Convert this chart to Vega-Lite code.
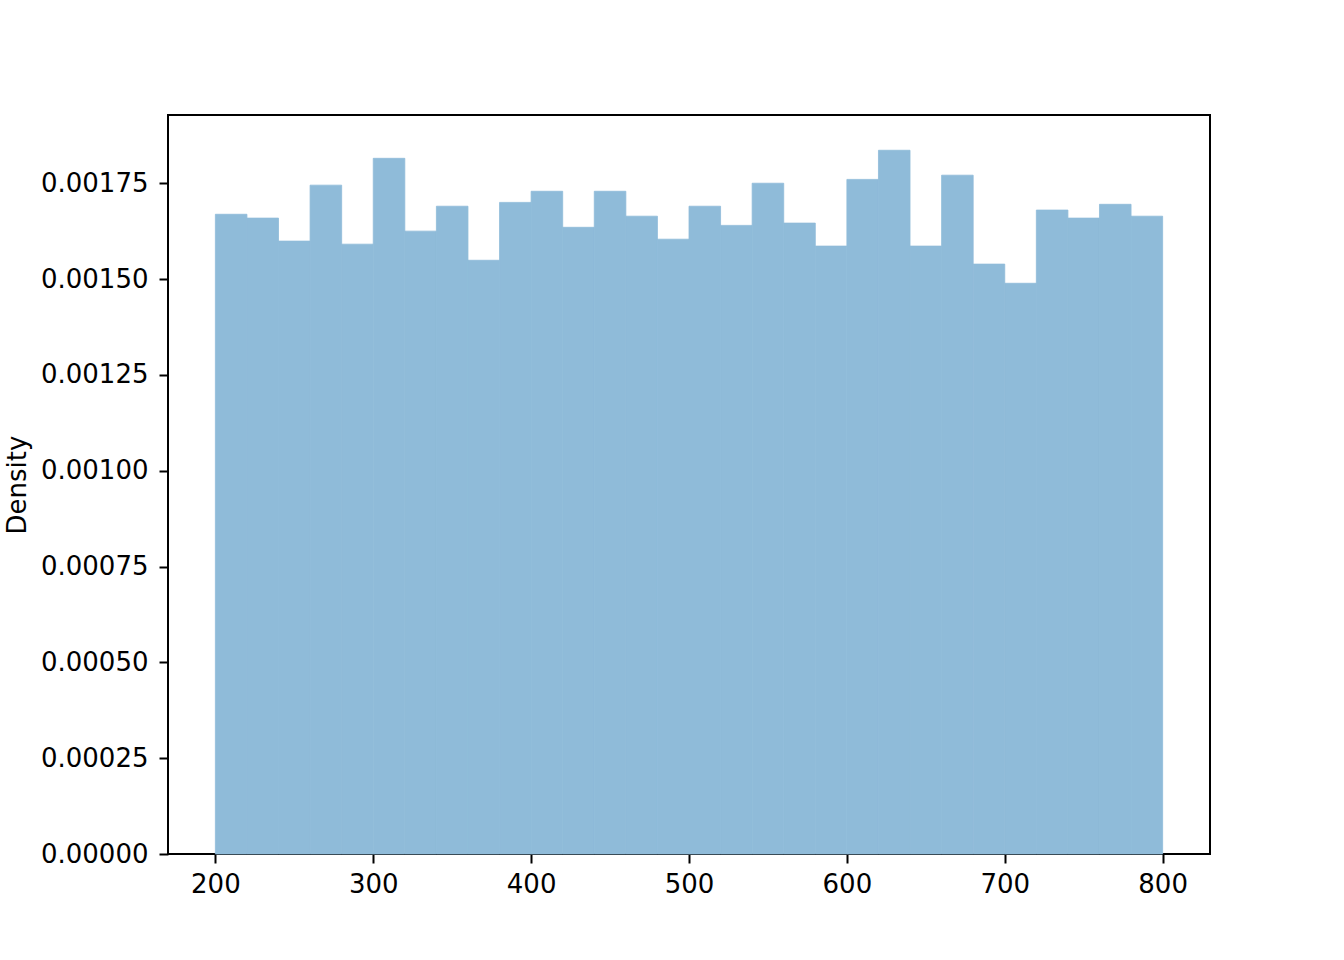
{
  "$schema": "https://vega.github.io/schema/vega-lite/v6.json",
  "width": 1042,
  "height": 739,
  "autosize": {"type": "none"},
  "padding": {"left": 168, "top": 115, "right": 134, "bottom": 106},
  "background": "white",
  "config": {
    "view": {"stroke": "black", "strokeWidth": 2},
    "font": "DejaVu Sans",
    "axis": {
      "domain": false,
      "grid": false,
      "ticks": true,
      "tickColor": "black",
      "tickWidth": 2,
      "tickSize": 9,
      "labelPadding": 8,
      "labelFont": "DejaVu Sans",
      "labelFontSize": 26,
      "labelColor": "black",
      "titleFont": "DejaVu Sans",
      "titleFontSize": 26,
      "titleFontWeight": "normal",
      "titleColor": "black"
    }
  },
  "data": {
    "values": [
      {"bin_start": 200, "bin_end": 220, "density": 0.001669},
      {"bin_start": 220, "bin_end": 240, "density": 0.001659},
      {"bin_start": 240, "bin_end": 260, "density": 0.001599},
      {"bin_start": 260, "bin_end": 280, "density": 0.001745},
      {"bin_start": 280, "bin_end": 300, "density": 0.001591},
      {"bin_start": 300, "bin_end": 320, "density": 0.001815},
      {"bin_start": 320, "bin_end": 340, "density": 0.001625},
      {"bin_start": 340, "bin_end": 360, "density": 0.001690},
      {"bin_start": 360, "bin_end": 380, "density": 0.001549},
      {"bin_start": 380, "bin_end": 400, "density": 0.001700},
      {"bin_start": 400, "bin_end": 420, "density": 0.001729},
      {"bin_start": 420, "bin_end": 440, "density": 0.001635},
      {"bin_start": 440, "bin_end": 460, "density": 0.001729},
      {"bin_start": 460, "bin_end": 480, "density": 0.001664},
      {"bin_start": 480, "bin_end": 500, "density": 0.001604},
      {"bin_start": 500, "bin_end": 520, "density": 0.001690},
      {"bin_start": 520, "bin_end": 540, "density": 0.001640},
      {"bin_start": 540, "bin_end": 560, "density": 0.001750},
      {"bin_start": 560, "bin_end": 580, "density": 0.001646},
      {"bin_start": 580, "bin_end": 600, "density": 0.001586},
      {"bin_start": 600, "bin_end": 620, "density": 0.001760},
      {"bin_start": 620, "bin_end": 640, "density": 0.001836},
      {"bin_start": 640, "bin_end": 660, "density": 0.001586},
      {"bin_start": 660, "bin_end": 680, "density": 0.001771},
      {"bin_start": 680, "bin_end": 700, "density": 0.001539},
      {"bin_start": 700, "bin_end": 720, "density": 0.001489},
      {"bin_start": 720, "bin_end": 740, "density": 0.001680},
      {"bin_start": 740, "bin_end": 760, "density": 0.001659},
      {"bin_start": 760, "bin_end": 780, "density": 0.001695},
      {"bin_start": 780, "bin_end": 800, "density": 0.001664}
    ]
  },
  "mark": {"type": "rect", "color": "#8fbbd9", "opacity": 1, "stroke": "#8fbbd9", "strokeWidth": 0.8},
  "encoding": {
    "x": {
      "field": "bin_start",
      "type": "quantitative",
      "scale": {"domain": [170, 830], "nice": false, "zero": false},
      "axis": {"title": null, "values": [200, 300, 400, 500, 600, 700, 800], "format": "d"}
    },
    "x2": {"field": "bin_end"},
    "y": {
      "field": "density",
      "type": "quantitative",
      "scale": {"domain": [0, 0.001928], "nice": false},
      "axis": {
        "title": "Density",
        "values": [0, 0.00025, 0.0005, 0.00075, 0.001, 0.00125, 0.0015, 0.00175],
        "format": ".5f",
        "labelPadding": 11,
        "titlePadding": 10
      }
    },
    "y2": {"datum": 0}
  }
}
